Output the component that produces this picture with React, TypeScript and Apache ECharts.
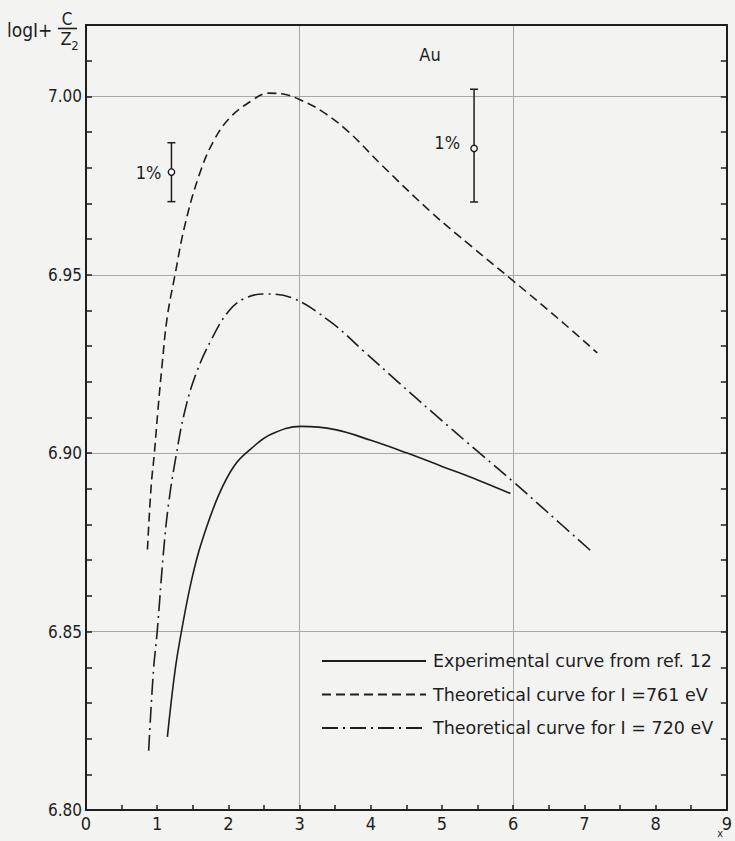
import React, { useEffect, useRef } from "react";
import * as echarts from "echarts";

// Experimental curve from ref. 12
const expX = [1.143, 1.25, 1.34, 1.48, 1.62, 1.86, 2.09, 2.32, 2.6, 3.02, 3.5, 4.0, 4.5, 5.0, 5.5, 5.96];
const expY = [6.8205, 6.839, 6.85, 6.8642, 6.8748, 6.8881, 6.8967, 6.9013, 6.9053, 6.9075, 6.9066, 6.9036, 6.9001, 6.8963, 6.8925, 6.8887];

// Theoretical curve for I = 761 eV
const t761X = [0.863, 0.915, 0.96, 1.01, 1.07, 1.14, 1.25, 1.39, 1.59, 1.79, 2.02, 2.32, 2.56, 2.8, 3.0, 3.3, 3.68, 4.15, 4.85, 5.41, 6.0, 6.72, 7.18];
const t761Y = [6.873, 6.8907, 6.9, 6.912, 6.925, 6.938, 6.95, 6.964, 6.978, 6.9874, 6.994, 6.9987, 7.0009, 7.0005, 6.9991, 6.996, 6.9902, 6.9808, 6.9675, 6.958, 6.9483, 6.9362, 6.9281];

// Theoretical curve for I = 720 eV
const t720X = [0.88, 0.947, 1.0, 1.087, 1.157, 1.26, 1.39, 1.55, 1.76, 2.0, 2.23, 2.51, 2.88, 3.44, 3.91, 4.38, 4.85, 5.57, 6.0, 6.49, 7.12];
const t720Y = [6.8166, 6.839, 6.85, 6.872, 6.8854, 6.8987, 6.912, 6.9225, 6.9318, 6.9397, 6.9434, 6.9446, 6.9436, 6.9367, 6.9284, 6.92, 6.9117, 6.8993, 6.892, 6.8833, 6.8721];

// Error bars: x, low, centre, high
const errX = [1.2, 5.45];
const errLow = [6.9705, 6.9704];
const errMid = [6.9788, 6.9854];
const errHigh = [6.987, 7.002];
const errLabel = ["1%", "1%"];

const seriesNames = [
  "Experimental curve from ref. 12",
  "Theoretical curve for I =761 eV",
  "Theoretical curve for I = 720 eV",
];

const xTicks = { min: 0, max: 9, interval: 1 };
const yTicks = { min: 6.8, max: 7.02, interval: 0.05 };
const xAxisName = "x";

const INK = "#1e1e1e";
const GRID = "#a8a8a8";
const FONT = "'DejaVu Sans Condensed', 'Liberation Sans Narrow', 'Liberation Sans', sans-serif";
const WIDE = "'DejaVu Sans', 'Liberation Sans', sans-serif";

const zip = (xs: number[], ys: number[]) => xs.map((x, i) => [x, ys[i]]);

export default function App() {
  const ref = useRef<HTMLDivElement>(null);
  useEffect(() => {
    if (!ref.current) return;
    const chart = echarts.init(ref.current, undefined, { renderer: "svg" });
    const lineBase = { type: "line", smooth: 0.4, symbol: "none", showSymbol: false, xAxisIndex: 0, yAxisIndex: 0 };
    chart.setOption({
      animation: false,
      backgroundColor: "#f3f3f2",
      grid: { left: 86, right: 4, top: 25, bottom: 31, containLabel: false },
      textStyle: { fontFamily: FONT, color: INK },
      xAxis: [
        {
          type: "value",
          position: "bottom",
          min: xTicks.min,
          max: xTicks.max,
          interval: xTicks.interval,
          axisLine: { lineStyle: { color: INK, width: 2 } },
          axisTick: { inside: true, length: 5, lineStyle: { color: INK, width: 1.5 } },
          minorTick: { show: true, splitNumber: 2, length: 5, lineStyle: { color: INK, width: 1.5 } },
          axisLabel: { color: INK, fontSize: 18, lineHeight: 16, fontFamily: FONT, margin: 5 },
          splitLine: { show: false },
        },
        {
          type: "value",
          position: "top",
          min: xTicks.min,
          max: xTicks.max,
          interval: 3,
          axisLine: { show: true, onZero: false, lineStyle: { color: INK, width: 2 } },
          axisTick: { show: false },
          axisLabel: { show: false },
          splitLine: { show: true, lineStyle: { color: GRID, width: 1 } },
        },
      ],
      yAxis: [
        {
          type: "value",
          position: "left",
          min: yTicks.min,
          max: yTicks.max,
          interval: yTicks.interval,
          axisLine: { show: true, onZero: false, lineStyle: { color: INK, width: 2 } },
          axisTick: { inside: true, length: 6, lineStyle: { color: INK, width: 1.5 } },
          minorTick: { show: true, splitNumber: 5, length: 6, lineStyle: { color: INK, width: 1.5 } },
          axisLabel: {
            color: INK,
            fontSize: 17,
            fontFamily: FONT,
            margin: 4,
            showMaxLabel: false,
            formatter: (v: number) => (Math.abs(v * 20 - Math.round(v * 20)) < 1e-6 ? v.toFixed(2) : ""),
          },
          splitLine: { show: true, lineStyle: { color: GRID, width: 1 } },
        },
        {
          type: "value",
          position: "right",
          min: yTicks.min,
          max: yTicks.max,
          interval: yTicks.interval,
          axisLine: { show: true, onZero: false, lineStyle: { color: INK, width: 2 } },
          axisTick: { inside: true, length: 6, lineStyle: { color: INK, width: 1.5 } },
          minorTick: { show: true, splitNumber: 5, length: 6, lineStyle: { color: INK, width: 1.5 } },
          axisLabel: { show: false },
          splitLine: { show: false },
        },
      ],
      legend: {
        data: seriesNames,
        orient: "vertical",
        left: 321,
        top: 652,
        padding: 0,
        itemWidth: 104,
        itemHeight: 14,
        itemGap: 15.5,
        itemStyle: { opacity: 0 },
        textStyle: { color: INK, fontSize: 17.5, lineHeight: 14, fontFamily: WIDE, padding: [0, 0, 0, 2] },
        selectedMode: false,
      },
      series: [
        { ...lineBase, name: seriesNames[0], data: zip(expX, expY), lineStyle: { color: INK, width: 1.6, type: "solid" }, itemStyle: { color: INK } },
        { ...lineBase, name: seriesNames[1], data: zip(t761X, t761Y), lineStyle: { color: INK, width: 1.6, type: [9, 5] }, itemStyle: { color: INK } },
        { ...lineBase, name: seriesNames[2], data: zip(t720X, t720Y), lineStyle: { color: INK, width: 1.6, type: [16, 5, 2, 5] }, itemStyle: { color: INK } },
        {
          type: "custom",
          name: "errors",
          xAxisIndex: 0,
          yAxisIndex: 0,
          data: errX.map((x, i) => [x, errLow[i], errMid[i], errHigh[i], i]),
          renderItem: (params: any, api: any) => {
            const x = api.value(0);
            const lo = api.coord([x, api.value(1)]);
            const mid = api.coord([x, api.value(2)]);
            const hi = api.coord([x, api.value(3)]);
            const idx = api.value(4);
            const st = { stroke: INK, lineWidth: 1.5 };
            return {
              type: "group",
              children: [
                { type: "line", shape: { x1: lo[0], y1: lo[1], x2: hi[0], y2: hi[1] }, style: st },
                { type: "line", shape: { x1: lo[0] - 4, y1: lo[1], x2: lo[0] + 4, y2: lo[1] }, style: st },
                { type: "line", shape: { x1: hi[0] - 4, y1: hi[1], x2: hi[0] + 4, y2: hi[1] }, style: st },
                { type: "circle", shape: { cx: mid[0], cy: mid[1], r: 3.2 }, style: { fill: "#f7f7f7", stroke: INK, lineWidth: 1.4 } },
                {
                  type: "text",
                  x: mid[0] - (idx === 1 ? 14 : 10),
                  y: mid[1] - (idx === 1 ? 6 : 0),
                  style: { text: errLabel[idx], fill: INK, fontSize: 18, fontFamily: FONT, align: "right", verticalAlign: "middle" },
                },
              ],
            };
          },
        },
      ],
      graphic: [
        { type: "text", left: 7, top: 20, style: { text: "logI+", fill: INK, fontSize: 19, fontFamily: FONT } },
        { type: "text", x: 67, y: 19, style: { text: "C", fill: INK, fontSize: 17, fontFamily: FONT, align: "center", verticalAlign: "middle" } },
        { type: "line", shape: { x1: 58, y1: 28.5, x2: 77, y2: 28.5 }, style: { stroke: INK, lineWidth: 1.6 } },
        { type: "text", x: 66, y: 38, style: { text: "Z", fill: INK, fontSize: 18, fontFamily: FONT, align: "center", verticalAlign: "middle" } },
        { type: "text", x: 75, y: 45, style: { text: "2", fill: INK, fontSize: 13, fontFamily: FONT, align: "center", verticalAlign: "middle" } },
        { type: "text", x: 430, y: 54, style: { text: "Au", fill: INK, fontSize: 18, fontFamily: FONT, align: "center", verticalAlign: "middle" } },
        { type: "text", x: 723, y: 828, style: { text: xAxisName, fill: INK, fontSize: 11, lineHeight: 11, fontFamily: FONT, align: "right", verticalAlign: "top" } },
      ],
    });
    return () => chart.dispose();
  }, []);
  return <div ref={ref} style={{ position: "fixed", left: 0, top: 0, width: 735, height: 841 }} />;
}
